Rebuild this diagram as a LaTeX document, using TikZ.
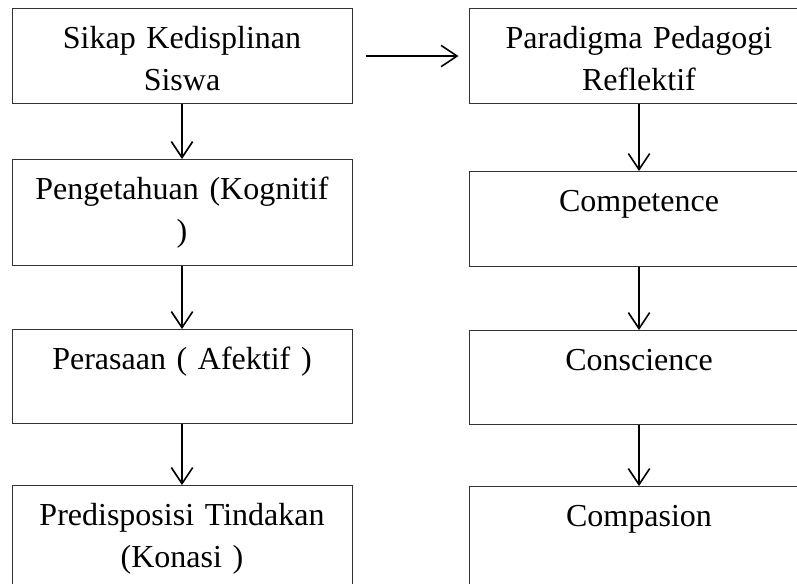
\documentclass[tikz,border=0pt]{standalone}
\usepackage{fontspec}
\setmainfont{Liberation Serif}
\usetikzlibrary{arrows.meta,positioning}

\begin{document}
\begin{tikzpicture}[
    x = 0.75pt, y = -0.75pt, % pixel grid, y going down
    > = {Straight Barb[length=12pt,width=16pt]}, % open arrow head
    line width = 1.2pt, % arrow line style
    node distance = 45pt
    ]

    \tikzset{box/.style={
    draw = black!80,
    line width = 0.75pt,
    inner sep = 0pt,
    text width = 255pt,
    align = center,
    text height = 30pt,
    text depth = 41.25pt,
    font = \fontsize{24}{31.3}\selectfont
    }}

    \useasboundingbox (0,0) rectangle (797,583);
    \clip (0,0) rectangle (797,583);

    % left column
    \node[box, anchor=north] (sikap) at (182,8) {Sikap Kedisplinan\\Siswa};
    \node[box, text depth=49.5pt] (kognitif) [below=41.25pt of sikap] {Pengetahuan (Kognitif\\)};
    \node[box, text depth=40.5pt] (afektif) [below=47.25pt of kognitif] {Perasaan ( Afektif )};
    \node[box, text depth=75pt] (konasi) [below=45.75pt of afektif] {Predisposisi Tindakan\\(Konasi )};

    % right column
    \node[box] (ppr) [right=87pt of sikap] {Paradigma Pedagogi\\Reflektif};
    \node[box] (competence) [below=50.25pt of ppr] {Competence};
    \node[box, text depth=40.5pt] (conscience) [below=47.25pt of competence] {Conscience};
    \node[box, text depth=75pt] (compasion) [below=45.75pt of conscience] {Compasion};

    \path[->] (sikap) edge (kognitif);
    \path[->] (kognitif) edge (afektif);
    \path[->] (afektif) edge (konasi);
    \path[->] (ppr) edge (competence);
    \path[->] (competence) edge (conscience);
    \path[->] (conscience) edge (compasion);
    \path[->] (sikap) edge[shorten <=9.75pt, shorten >=7.5pt] (ppr);
\end{tikzpicture}
\end{document}
